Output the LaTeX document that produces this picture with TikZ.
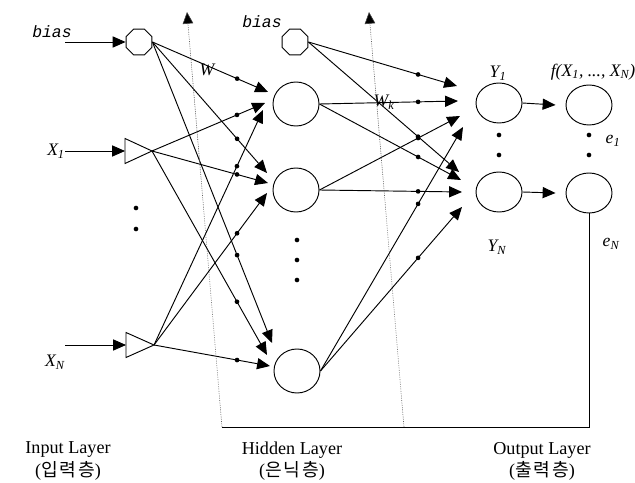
\documentclass[tikz,border=0pt]{standalone}
\usepackage{fontspec}
\setmainfont{Liberation Serif}
\setmonofont{Liberation Mono}
\newfontfamily\kor{Noto Sans CJK KR}[LetterSpace=10]
\usetikzlibrary{shapes.geometric,arrows.meta,calc}
\tikzset{
  ln/.style={line width=0.8pt},
  arr/.style={line width=0.8pt,-{Triangle[length=11pt,width=9.5pt]}},
  fb/.style={line width=0.5pt,densely dotted,black!75,-{Triangle[length=10pt,width=9pt,fill=black]}},
  wdot/.style={circle,fill,inner sep=0pt,minimum size=4pt},
  oct/.style={draw,line width=0.8pt,regular polygon,regular polygon sides=8,minimum size=0.84cm,inner sep=0pt},
  neuron/.style={draw,line width=0.8pt,ellipse,minimum width=1.38cm,minimum height=1.32cm,inner sep=0pt},
  outn/.style={neuron,minimum height=1.2cm},
  lab/.style={font=\fontsize{15}{17}\selectfont\itshape,inner sep=0pt},
  biaslab/.style={font=\fontsize{14}{16}\selectfont\ttfamily\itshape,inner sep=0pt},
  layer/.style={font=\fontsize{15.5}{17}\selectfont,inner sep=0pt},
  vdot/.style={circle,fill,inner sep=0pt,minimum size=4pt}
}
\begin{document}
\begin{tikzpicture}[x=0.03cm,y=-0.03cm]
\useasboundingbox (0,0) rectangle (635,483);

% ---------- input layer ----------
\node[oct] (ib) at (139,42) {};
\node[biaslab] (biasA) at (52,32) {bias};
\coordinate (ibin) at (65,42);
\draw[arr] (ibin) -- (ib.west);

\coordinate (x1) at (152,151);
\draw[ln] (x1) -- ++(-27,-12.5) -- ++(0,25) -- cycle;
\coordinate (x1in) at (125,151);
\node[lab] (x1lab) at (56,151) {X\textsubscript{1}};
\coordinate (x1s) at (65,151);
\draw[arr] (x1s) -- (x1in);

\coordinate (xn) at (154,345);
\draw[ln] (xn) -- ++(-28,-12.5) -- ++(0,25) -- cycle;
\coordinate (xnin) at (126,345);
\node[lab] (xnlab) at (55,362) {X\textsubscript{N}};
\coordinate (xns) at (65,345);
\draw[arr] (xns) -- (xnin);

\node[vdot] (iv1) at (136,208) {};
\node[vdot] (iv2) at (136,229) {};

% ---------- hidden layer ----------
\node[oct] (hb) at (295,42) {};
\node[biaslab] (biasB) at (262,22) {bias};
\node[neuron] (h1) at (296,104) {};
\node[neuron] (h2) at (296,190) {};
\node[neuron] (h3) at (297,371) {};
\node[vdot] (hv1) at (297,240) {};
\node[vdot] (hv2) at (297,260) {};
\node[vdot] (hv3) at (297,280) {};

% input -> hidden
\draw[arr] (ib.east) -- node[wdot,pos=0.733] (d1) {} ($(h1)+(-28,-12)$);
\draw[arr] (ib.east) -- node[wdot,pos=0.739] (d2) {} ($(h2)+(-29,-17)$);
\draw[arr] (ib.east) -- node[wdot,pos=0.708] (d3) {} ($(h3)+(-25,-28)$);
\draw[arr] (x1) -- node[wdot,pos=0.752] (d4) {} ($(h1)+(-31,-1)$);
\draw[arr] (x1) -- node[wdot,pos=0.733] (d5) {} ($(h2)+(-28,-7)$);
\draw[arr] (x1) -- node[wdot,pos=0.739] (d6) {} ($(h3)+(-30,-16)$);
\draw[arr] (xn) -- node[wdot,pos=0.761] (d7) {} ($(h1)+(-33,6)$);
\draw[arr] (xn) -- node[wdot,pos=0.735] (d8) {} ($(h2)+(-29,3)$);
\draw[arr] (xn) -- node[wdot,pos=0.716] (d9) {} ($(h3)+(-27,-5)$);
\node[lab] (wlab) at (207,70) {W};

% ---------- output layer ----------
\node[outn] (y1) at (499,103) {};
\node[outn] (yn) at (499,192) {};
\node[outn] (f1) at (589,105) {};
\node[outn] (fn) at (589,193) {};
\node[vdot] (ov1) at (499,135) {};
\node[vdot] (ov2) at (499,155) {};
\node[vdot] (ov3) at (589,135) {};
\node[vdot] (ov4) at (589,155) {};

% hidden -> output
\draw[arr] (hb.east) -- node[wdot,pos=0.738] (e1) {} ($(y1)+(-42,-17)$);
\draw[arr] (hb.east) -- node[wdot,pos=0.728] (e2) {} ($(yn)+(-40,-20)$);
\draw[arr] (h1.east) -- node[wdot,pos=0.712] (e3) {} ($(y1)+(-41,-2)$);
\draw[arr] (h1.east) -- node[wdot,pos=0.697] (e4) {} ($(yn)+(-38,-12)$);
\draw[arr] (h2.east) -- node[wdot,pos=0.702] (e5) {} ($(y1)+(-39,13)$);
\draw[arr] (h2.east) -- node[wdot,pos=0.692] (e6) {} ($(yn)+(-37,0)$);
\draw[arr] (h3.east) -- node[wdot,pos=0.685] (e7) {} ($(y1)+(-36,24)$);
\draw[arr] (h3.east) -- node[wdot,pos=0.690] (e8) {} ($(yn)+(-37,15)$);
\node[lab] (wklab) at (384,102) {W\textsubscript{k}};

\draw[arr] (y1.east) -- ($(f1.west)+(-10,0)$);
\draw[arr] (yn.east) -- ($(fn.west)+(-10,0)$);

\node[lab] (y1lab) at (498,73) {Y\textsubscript{1}};
\node[lab] (ynlab) at (497,247) {Y\textsubscript{N}};
\node[lab] (flab) at (593,72) {f(X\textsubscript{1}, ..., X\textsubscript{N})};
\node[lab] (e1lab) at (613,141) {e\textsubscript{1}};
\node[lab] (enlab) at (611,244) {e\textsubscript{N}};

% ---------- feedback ----------
\coordinate (c1) at (222,427);
\coordinate (c2) at (404,427);
\coordinate (t1) at (187,12);
\coordinate (t2) at (369,12);
\draw[ln,line width=0.7pt] (fn.south) |- (c1);
\draw[fb] (c1) -- (t1);
\draw[fb] (c2) -- (t2);

% ---------- layer labels ----------
\node[layer] (inl) at (68,450) {Input Layer};
\node[layer] (ink) at (68,471) {({\kor 입력층})};
\node[layer] (hil) at (292,450) {Hidden Layer};
\node[layer] (hik) at (292,471) {({\kor 은닉층})};
\node[layer] (oul) at (542,450) {Output Layer};
\node[layer] (ouk) at (542,471) {({\kor 출력층})};
\end{tikzpicture}
\end{document}
